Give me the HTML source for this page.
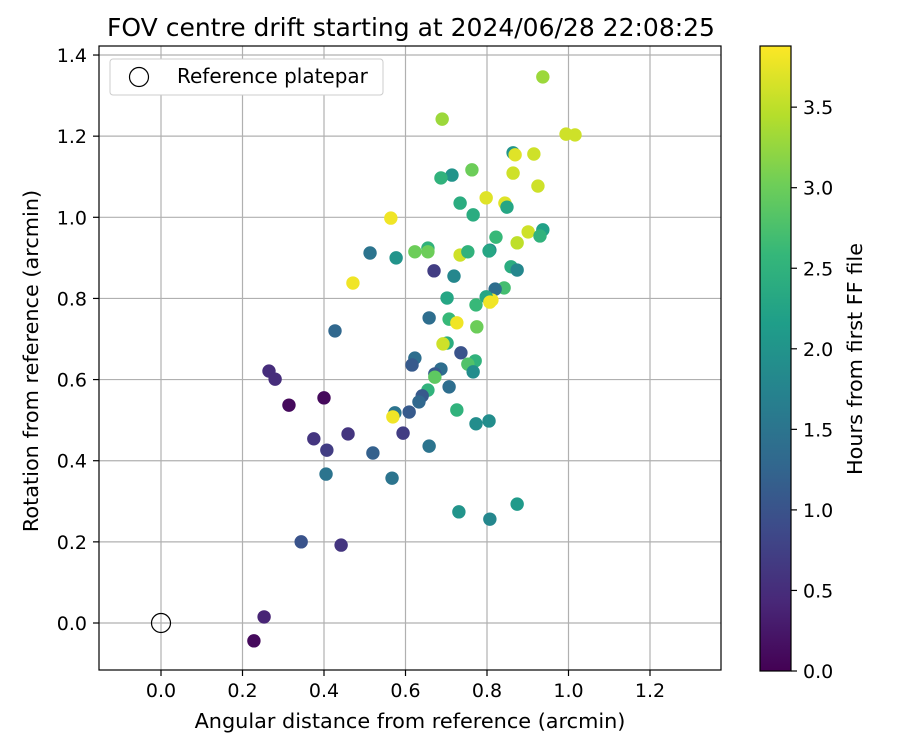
<!DOCTYPE html>
<html><head><meta charset="utf-8"><style>
body{margin:0;background:#fff;font-family:"Liberation Sans","DejaVu Sans",sans-serif;}
svg text{font-family:"DejaVu Sans","Liberation Sans",sans-serif;fill:#000;}
</style></head><body>
<svg id="chart" width="900" height="750" viewBox="0 0 900 750" xmlns="http://www.w3.org/2000/svg">
<defs>
<linearGradient id="vir" x1="0" y1="1" x2="0" y2="0">
<stop offset="0" stop-color="#440154"/><stop offset="0.111" stop-color="#482878"/><stop offset="0.222" stop-color="#3e4989"/><stop offset="0.333" stop-color="#31688e"/><stop offset="0.444" stop-color="#26828e"/><stop offset="0.556" stop-color="#1f9e89"/><stop offset="0.667" stop-color="#35b779"/><stop offset="0.778" stop-color="#6ece58"/><stop offset="0.889" stop-color="#b5de2b"/><stop offset="1" stop-color="#fde725"/>
</linearGradient>
<clipPath id="clip"><rect x="99" y="46" width="622" height="624"/></clipPath>
</defs>
<text x="411" y="36" font-size="25" text-anchor="middle">FOV centre drift starting at 2024/06/28 22:08:25</text>
<g id="grid"></g>
<g id="points" clip-path="url(#clip)"></g>
<rect x="99" y="46" width="622" height="624" fill="none" stroke="#000" stroke-width="1.2"/>
<g id="axes"></g>
<text x="410" y="728" font-size="20.8" text-anchor="middle">Angular distance from reference (arcmin)</text>
<text transform="translate(38,361) rotate(-90)" font-size="20.8" text-anchor="middle">Rotation from reference (arcmin)</text>
<g>
<rect x="110" y="59" width="273" height="36" rx="3" fill="#fff" stroke="#ccc"/>
<circle cx="139" cy="77" r="9.5" fill="none" stroke="#000" stroke-width="1.2"/>
<text x="177" y="83" font-size="20">Reference platepar</text>
</g>
<rect x="760" y="46" width="31" height="625" fill="url(#vir)" stroke="#000" stroke-width="1.2"/>
<g id="cbticks"></g>
<text transform="translate(862,359) rotate(-90)" font-size="20.8" text-anchor="middle">Hours from first FF file</text>
</svg>
<script>
const xs=[0.937,0.690,0.994,1.016,0.864,0.869,0.915,0.714,0.687,0.763,0.864,0.925,0.734,0.766,0.798,0.844,0.849,0.564,0.623,0.655,0.655,0.513,0.577,0.670,0.719,0.702,0.734,0.753,0.807,0.805,0.822,0.874,0.901,0.937,0.930,0.859,0.874,0.842,0.820,0.812,0.798,0.773,0.807,0.658,0.707,0.726,0.775,0.702,0.692,0.736,0.771,0.753,0.766,0.623,0.616,0.687,0.672,0.672,0.707,0.655,0.641,0.633,0.574,0.569,0.609,0.726,0.594,0.773,0.805,0.658,0.520,0.567,0.731,0.807,0.874,0.427,0.471,0.265,0.280,0.314,0.400,0.375,0.407,0.459,0.405,0.344,0.442,0.253,0.228];
const ys=[1.346,1.242,1.205,1.203,1.159,1.154,1.156,1.104,1.097,1.117,1.109,1.077,1.035,1.006,1.048,1.035,1.025,0.998,0.915,0.924,0.915,0.912,0.900,0.868,0.855,0.801,0.907,0.915,0.919,0.917,0.951,0.937,0.964,0.969,0.954,0.878,0.870,0.826,0.823,0.796,0.804,0.784,0.791,0.752,0.749,0.740,0.730,0.690,0.688,0.666,0.646,0.638,0.619,0.653,0.636,0.626,0.614,0.606,0.582,0.574,0.560,0.545,0.518,0.508,0.520,0.525,0.468,0.491,0.498,0.436,0.419,0.357,0.274,0.256,0.293,0.720,0.838,0.621,0.601,0.537,0.555,0.454,0.426,0.466,0.367,0.200,0.192,0.015,-0.044];
const hours=[3.3,3.3,3.6,3.6,2.0,3.7,3.6,2.0,2.5,3.0,3.6,3.6,2.4,2.4,3.7,3.7,2.3,3.8,3.0,2.5,3.0,1.5,2.0,0.7,1.8,2.3,3.6,2.5,1.8,2.3,2.6,3.5,3.6,2.2,2.5,2.4,1.8,2.7,1.4,3.8,2.3,2.6,3.8,1.4,2.6,3.8,3.0,2.4,3.6,1.0,2.5,2.8,1.9,1.4,1.1,1.4,1.1,2.9,1.4,2.5,1.1,1.3,1.5,3.8,1.1,2.5,0.7,1.9,1.9,1.5,1.2,1.5,2.0,1.8,2.1,1.3,3.8,0.5,0.5,0.1,0.1,0.6,0.7,0.6,1.5,1.0,0.6,0.4,0.1];
const xTicks=["0.0","0.2","0.4","0.6","0.8","1.0","1.2"];
const yTicks=["0.0","0.2","0.4","0.6","0.8","1.0","1.2","1.4"];
const cTicks=["0.0","0.5","1.0","1.5","2.0","2.5","3.0","3.5"];
const NS="http://www.w3.org/2000/svg";
const X=v=>161+v*407.5, Y=v=>623-v*405.7, C=v=>671-v*161.1;
const vmax=3.88;
const stops=[[68,1,84],[72,40,120],[62,73,137],[49,104,142],[38,130,142],[31,158,137],[53,183,121],[110,206,88],[181,222,43],[253,231,37]];
function vir(t){t=Math.max(0,Math.min(1,t))*9;const i=Math.min(8,Math.floor(t)),f=t-i;const a=stops[i],b=stops[i+1];return `rgb(${a.map((c,k)=>Math.round(c+(b[k]-c)*f)).join(',')})`;}
function mk(tag,attrs,parent){const e=document.createElementNS(NS,tag);for(const k in attrs)e.setAttribute(k,attrs[k]);parent.appendChild(e);return e;}
const grid=document.getElementById('grid'),axes=document.getElementById('axes'),pts=document.getElementById('points'),cb=document.getElementById('cbticks');
xTicks.forEach(t=>{const x=X(parseFloat(t));
const g=mk('line',{x1:x,x2:x,y1:46,y2:670,stroke:'#b0b0b0','stroke-width':1.2},grid);


const tk=mk('line',{x1:x,x2:x,y1:670,y2:676,stroke:'#000','stroke-width':1.2},axes);


const tx=mk('text',{x:x,y:697,'font-size':19,'text-anchor':'middle'},axes);tx.textContent=t;

});
yTicks.forEach(t=>{const y=Y(parseFloat(t));
const g=mk('line',{x1:99,x2:721,y1:y,y2:y,stroke:'#b0b0b0','stroke-width':1.2},grid);


const tk=mk('line',{x1:93,x2:99,y1:y,y2:y,stroke:'#000','stroke-width':1.2},axes);


const tx=mk('text',{x:87,y:y+7,'font-size':19,'text-anchor':'end'},axes);tx.textContent=t;

});
cTicks.forEach(t=>{const y=C(parseFloat(t));
const tk=mk('line',{x1:791,x2:797,y1:y,y2:y,stroke:'#000','stroke-width':1.2},cb);


const tx=mk('text',{x:803,y:y+7,'font-size':19},cb);tx.textContent=t;

});
xs.forEach((v,i)=>{const c=mk('circle',{cx:X(v),cy:Y(ys[i]),r:6.7,fill:vir(hours[i]/vmax)},pts);

});
const ref=mk('circle',{cx:X(0),cy:Y(0),r:9.5,fill:'none',stroke:'#000','stroke-width':1.2},pts);


</script>
</body></html>
